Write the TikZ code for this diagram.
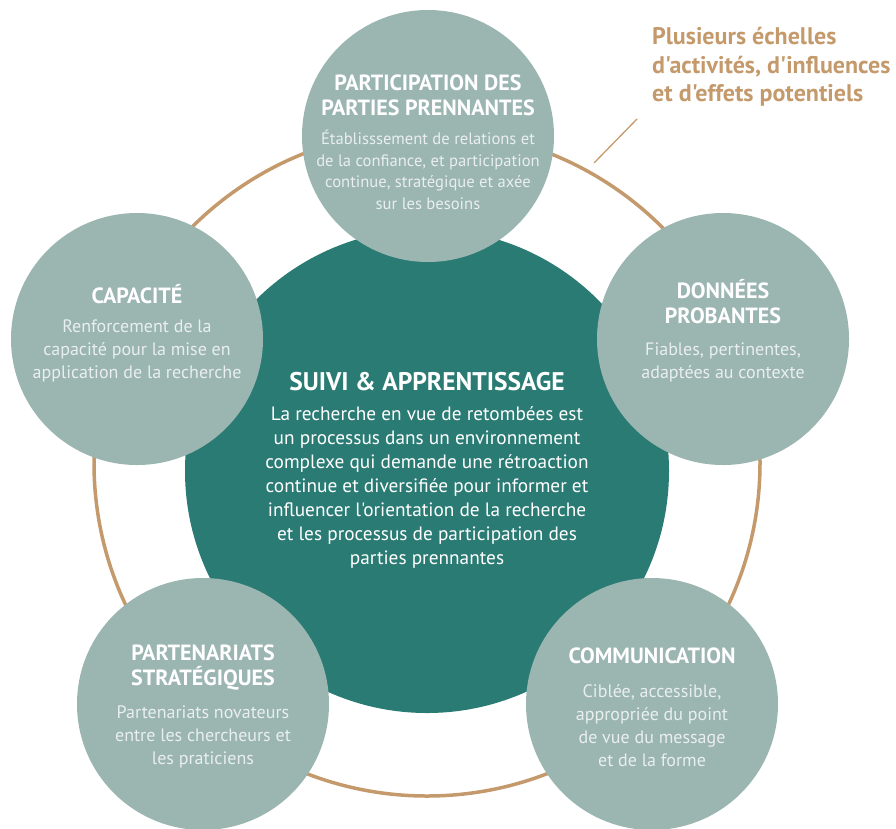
\documentclass[tikz,border=0pt]{standalone}
\usepackage{fontspec}
\setmainfont{PT Sans}[Ligatures=TeXOff]
\usetikzlibrary{positioning}
\definecolor{sage}{HTML}{9BB5B1}
\definecolor{deepteal}{HTML}{2A7B73}
\definecolor{sand}{HTML}{C49A6C}
\definecolor{mist}{HTML}{E9EFED}

\begin{document}
\begin{tikzpicture}[x=1pt,y=-1pt,
            petal/.style={circle,fill=sage,minimum size=252pt,inner sep=0pt},
            core/.style={circle,fill=deepteal,minimum size=484pt,inner sep=0pt},
            loop/.style={circle,draw=sand,line width=3.5pt,minimum size=666pt,inner sep=0pt},
            heading/.style={align=center,text=white,inner sep=0pt,font=\bfseries\fontsize{22}{25}\selectfont},
            blurb/.style={align=center,text=mist,inner sep=0pt,font=\fontsize{18}{23}\selectfont},
            coretitle/.style={align=center,text=white,inner sep=0pt,font=\bfseries\fontsize{25.5}{28}\selectfont},
            coreblurb/.style={align=center,text=white,inner sep=0pt,font=\fontsize{19.3}{24}\selectfont},
            note/.style={align=left,text=sand,inner sep=0pt,font=\bfseries\fontsize{24}{28.5}\selectfont}]
            \useasboundingbox (0,0) rectangle (896,828);
            \node[loop] (cycle) at (427,463) {};
            \node[core] (suivi) at (427,471) {};
            \node[petal] (partic) at (428,136) {};
            \node[petal] (capac) at (137,339) {};
            \node[petal] (donnees) at (723,339) {};
            \node[petal] (parten) at (203,704) {};
            \node[petal] (commun) at (652,704) {};

            \node[coretitle] (suiviT) at (427,382) {SUIVI \& APPRENTISSAGE};
            \node[coreblurb] (suiviB) at (427,487) {La recherche en vue de retombées est\\un processus dans un environnement\\complexe qui demande une rétroaction\\continue et diversifiée pour informer et\\influencer l'orientation de la recherche\\et les processus de participation des\\parties prennantes};
            \node[heading] (particT) at (428,95) {PARTICIPATION DES\\PARTIES PRENNANTES};
            \node[blurb,font=\fontsize{16.6}{21.5}\selectfont] (particB) at (428,170) {Établisssement de relations et\\de la confiance, et participation\\continue, stratégique et axée\\sur les besoins};
            \node[heading] (capacT) at (137,294) {CAPACITÉ};
            \node[blurb] (capacB) at (137,351) {Renforcement de la\\capacité pour la mise en\\application de la recherche};
            \node[heading] (donneesT) at (723,302) {DONNÉES\\PROBANTES};
            \node[blurb] (donneesB) at (723,362) {Fiables, pertinentes,\\adaptées au contexte};
            \node[heading] (partenT) at (203,667) {PARTENARIATS\\STRATÉGIQUES};
            \node[blurb] (partenB) at (203,737) {Partenariats novateurs\\entre les chercheurs et\\les praticiens};
            \node[heading] (communT) at (652,656) {COMMUNICATION};
            \node[blurb] (communB) at (652,726) {Ciblée, accessible,\\appropriée du point\\de vue du message\\et de la forme};

            \node[note,anchor=west] (echelles) at (652,67) {Plusieurs échelles\\d'activités, d'influences\\et d'effets potentiels};
            \coordinate (pin) at (594,163);
            \coordinate[above right=44pt and 43pt of pin] (pinend);
            \draw[sand,line width=1.3pt] (pin) -- (pinend);
\end{tikzpicture}
\end{document}
